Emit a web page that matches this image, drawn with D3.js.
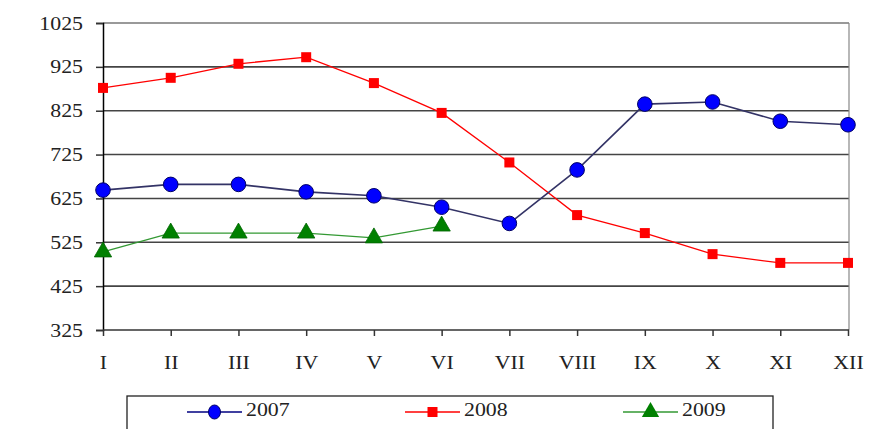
<!DOCTYPE html>
<html><head><meta charset="utf-8">
<script src="https://cdn.jsdelivr.net/npm/d3@7"></script>
<style>body{margin:0;background:#fff} svg text{font-family:'Liberation Serif','Times New Roman','DejaVu Serif',serif !important;}</style>
</head><body><svg id="c" width="872" height="429"></svg>
<script>
const months = ["I","II","III","IV","V","VI","VII","VIII","IX","X","XI","XII"];
const yTicks = [325,425,525,625,725,825,925,1025];
const s2007 = [644,657,657,640,631,605,568,690,840,845,801,793];
const s2008 = [877,900,932,947,888,820,707,587,546,498,478,478];
const s2009 = [503,546,546,546,535,562];
const seriesNames = ["2007","2008","2009"];

const svg = d3.select("#c");
const L=103, R=848, T=23, B=330;
const SX = 1.15, FS = 19;
const x = d3.scalePoint().domain(months).range([L,R]);
const y = d3.scaleLinear().domain([325,1025]).range([B,T]);

// gridlines
svg.append("g").selectAll("line").data(yTicks.slice(1)).join("line")
  .attr("x1",L).attr("x2",R+1).attr("y1",d=>y(d)).attr("y2",d=>y(d))
  .attr("stroke",d=>d===1025?"#777":"#444").attr("stroke-width",1.6);
// right border
svg.append("line").attr("x1",R+1).attr("x2",R+1).attr("y1",T).attr("y2",B).attr("stroke","#888").attr("stroke-width",1.2);

// y axis
const ya = svg.append("g").attr("transform",`translate(${L},0)`)
  .call(d3.axisLeft(y).tickValues(yTicks).tickSize(7).tickPadding(13).tickFormat(d3.format("d")));
ya.select(".domain").attr("stroke","#000").attr("stroke-width",1.5);
ya.selectAll(".tick line").attr("stroke","#333").attr("stroke-width",1.5);
ya.selectAll("text").attr("font-size",FS).attr("fill","#222")
  .attr("x",0).attr("transform",`translate(-20,0) scale(${SX},1)`);

// x axis
const xa = svg.append("g").attr("transform",`translate(0,${B})`)
  .call(d3.axisBottom(x).tickSize(6).tickPadding(14).tickSizeOuter(0));
xa.select(".domain").attr("stroke","#333").attr("stroke-width",1.6).attr("d",`M${L},0H${R+1}`);
xa.selectAll(".tick line").attr("stroke","#333").attr("stroke-width",1.5);
xa.selectAll("text").attr("font-size",FS).attr("fill","#222")
  .attr("y",0).attr("dy",null).attr("transform",`translate(0,39) scale(${SX},1)`);

const line = d3.line().x((d,i)=>x(months[i])).y(d=>y(d));

// 2008 red
svg.append("path").datum(s2008).attr("d",line).attr("fill","none").attr("stroke","#ff0000").attr("stroke-width",1.3);
svg.append("g").selectAll("rect").data(s2008).join("rect")
  .attr("x",(d,i)=>x(months[i])-5).attr("y",d=>y(d)-5).attr("width",10).attr("height",10).attr("fill","#ff0000");

// 2007 blue
svg.append("path").datum(s2007).attr("d",line).attr("fill","none").attr("stroke","#333366").attr("stroke-width",1.6);
svg.append("g").selectAll("circle").data(s2007).join("circle")
  .attr("cx",(d,i)=>x(months[i])).attr("cy",d=>y(d)).attr("r",7.3).attr("fill","#0000ff").attr("stroke","#000066").attr("stroke-width",1);

// 2009 green
const tri = d3.symbol().type(d3.symbolTriangle).size(130);
svg.append("path").datum(s2009).attr("d",line).attr("fill","none").attr("stroke","#339933").attr("stroke-width",1.3);
svg.append("g").selectAll("path").data(s2009).join("path")
  .attr("d",tri).attr("transform",(d,i)=>`translate(${x(months[i])},${y(d)})`).attr("fill","#008000").attr("stroke","#006600").attr("stroke-width",0.8);

// legend
svg.append("rect").attr("x",127).attr("y",396).attr("width",646).attr("height",40).attr("fill","#fff").attr("stroke","#222").attr("stroke-width",1.3);
const leg = [
  {name:seriesNames[0], x1:187, x2:242, color:"#000080", mark:"circle"},
  {name:seriesNames[1], x1:405, x2:460, color:"#ff0000", mark:"square"},
  {name:seriesNames[2], x1:623, x2:678, color:"#339933", mark:"tri"}
];
const ly=412;
leg.forEach(l=>{
  svg.append("line").attr("x1",l.x1).attr("x2",l.x2).attr("y1",ly).attr("y2",ly).attr("stroke",l.color).attr("stroke-width",1.3);
  const cx=(l.x1+l.x2)/2;
  if(l.mark==="circle") svg.append("ellipse").attr("cx",cx).attr("cy",ly).attr("rx",6).attr("ry",7).attr("fill","#0000ff").attr("stroke","#000066");
  else if(l.mark==="square") svg.append("rect").attr("x",cx-5).attr("y",ly-5).attr("width",10).attr("height",10).attr("fill","#ff0000");
  else svg.append("path").attr("d",tri).attr("transform",`translate(${cx},${ly})`).attr("fill","#008000");
  svg.append("text").attr("font-size",FS).attr("fill","#222")
    .attr("transform",`translate(${l.x2+4},${ly+4}) scale(${SX},1)`).text(l.name);
});
</script></body></html>
